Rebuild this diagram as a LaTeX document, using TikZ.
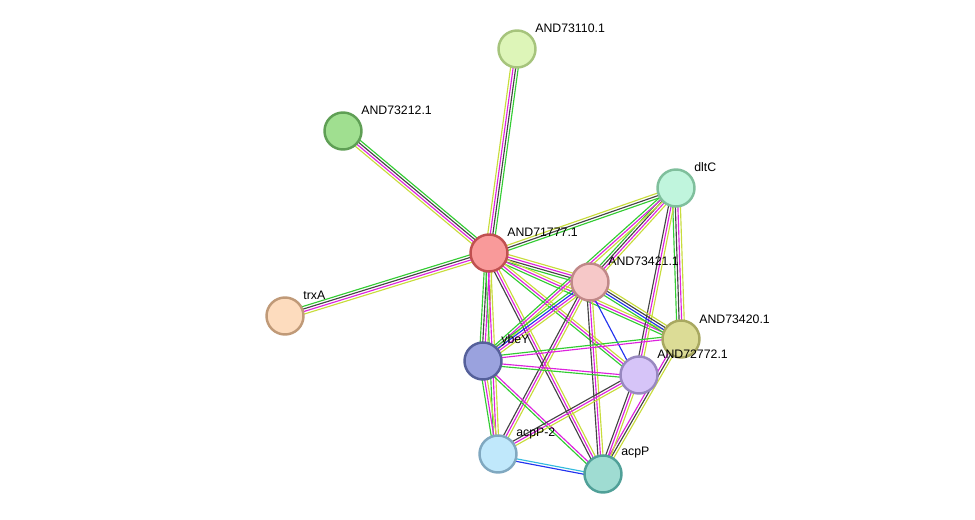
\documentclass[tikz,border=0pt]{standalone}
\usepackage{fontspec}
\setmainfont{Liberation Sans}
\usetikzlibrary{calc,backgrounds}
\definecolor{eg}{HTML}{33CC33}
\definecolor{em}{HTML}{DD22DD}
\definecolor{ek}{HTML}{444444}
\definecolor{ey}{HTML}{C8DC3C}
\definecolor{eb}{HTML}{2233EE}
\definecolor{ec}{HTML}{33BBDD}
\tikzset{
  prot/.style 2 args={circle,draw={rgb,255:#2},fill={rgb,255:#1},line width=1.4pt,minimum size=0.74cm,inner sep=0pt},
  plabel/.style={anchor=west,font=\fontsize{7}{8}\selectfont,inner sep=0pt},
  link/.style={line width=0.65pt}
}
% edge between two proteins, one thin line per evidence colour
\newcommand\sedge[3]{%
  \foreach \col [count=\i] in {#3}{%
    \draw[link,\col] ($(#1.center)!{(\i-2.5)*1.45pt}!90:(#2.center)$) --
                     ($(#2.center)!{(\i-2.5)*1.45pt}!-90:(#1.center)$);}}
\begin{document}
\begin{tikzpicture}[x=0.02cm,y=-0.02cm]
  \useasboundingbox (0,0) rectangle (975,520);
  % proteins
  \node[prot={red,221;green,245;blue,184}{red,166;green,196;blue,124}] (n73110) at (517,49) {};
  \node[prot={red,160;green,223;blue,144}{red,95;green,159;blue,85}] (n73212) at (343,131) {};
  \node[prot={red,192;green,245;blue,221}{red,127;green,191;blue,156}] (dltC) at (676,188) {};
  \node[prot={red,249;green,154;blue,154}{red,192;green,80;blue,80}] (n71777) at (489,253) {};
  \node[prot={red,246;green,200;blue,200}{red,192;green,136;blue,136}] (n73421) at (590,282) {};
  \node[prot={red,253;green,220;blue,190}{red,192;green,154;blue,120}] (trxA) at (285,316) {};
  \node[prot={red,220;green,220;blue,150}{red,168;green,168;blue,96}] (n73420) at (681,339) {};
  \node[prot={red,154;green,162;blue,222}{red,85;green,96;blue,154}] (ybeY) at (483,361) {};
  \node[prot={red,214;green,196;blue,248}{red,152;green,136;blue,192}] (n72772) at (639,375) {};
  \node[prot={red,192;green,232;blue,251}{red,128;green,168;blue,192}] (acpP2) at (498,454) {};
  \node[prot={red,159;green,220;blue,210}{red,80;green,160;blue,152}] (acpP) at (603,474) {};
  % labels
  \node[plabel] at ($(n73110)+(18,-21)$) {AND73110.1};
  \node[plabel] at ($(n73212)+(18,-21)$) {AND73212.1};
  \node[plabel] at ($(dltC)+(18,-21)$) {dltC};
  \node[plabel] at ($(n71777)+(18,-21)$) {AND71777.1};
  \node[plabel] at ($(n73421)+(18,-21)$) {AND73421.1};
  \node[plabel] at ($(trxA)+(18,-21)$) {trxA};
  \node[plabel] at ($(n73420)+(18,-20)$) {AND73420.1};
  \node[plabel] at ($(ybeY)+(18,-21)$) {ybeY};
  \node[plabel] at ($(n72772)+(18,-21)$) {AND72772.1};
  \node[plabel] at ($(acpP2)+(18,-21)$) {acpP-2};
  \node[plabel] at ($(acpP)+(18,-21)$) {acpP};
  % interactions
  \begin{scope}[on background layer]
    \sedge{n71777}{n73110}{eg,ek,em,ey}
    \sedge{n71777}{n73212}{eg,ek,em,ey}
    \sedge{n71777}{trxA}{eg,ek,em,ey}
    \sedge{n71777}{dltC}{eg,ek,ey}
    \sedge{n71777}{n73421}{eg,ek,em,ey}
    \sedge{n71777}{n73420}{eg,em,ey}
    \sedge{n71777}{ybeY}{eg,ek,em,ey}
    \sedge{n71777}{n72772}{eg,em,ey}
    \sedge{n71777}{acpP2}{eg,em,ey}
    \sedge{n71777}{acpP}{ek,em,ey}
    \sedge{dltC}{n73421}{eg,ek,em,ey}
    \sedge{dltC}{n73420}{eg,ek,em,ey}
    \sedge{dltC}{n72772}{ek,em,ey}
    \sedge{dltC}{ybeY}{eg,em,ey}
    \sedge{n73421}{ybeY}{eg,eb,em,ey}
    \sedge{n73421}{n73420}{eg,eb,ek,ey}
    \sedge{n73421}{n72772}{eb}
    \sedge{n73421}{acpP2}{ek,em,ey}
    \sedge{n73421}{acpP}{ek,em,ey}
    \sedge{n73420}{ybeY}{eg,em}
    \sedge{n73420}{acpP}{em,ek,ey}
    \sedge{ybeY}{n72772}{eg,em}
    \sedge{ybeY}{acpP2}{eg,em,ey}
    \sedge{ybeY}{acpP}{eg,em}
    \sedge{n72772}{acpP}{ek,em,ey}
    \sedge{n72772}{acpP2}{ek,em,ey}
    \sedge{acpP2}{acpP}{eb,ec}
  \end{scope}
\end{tikzpicture}
\end{document}
